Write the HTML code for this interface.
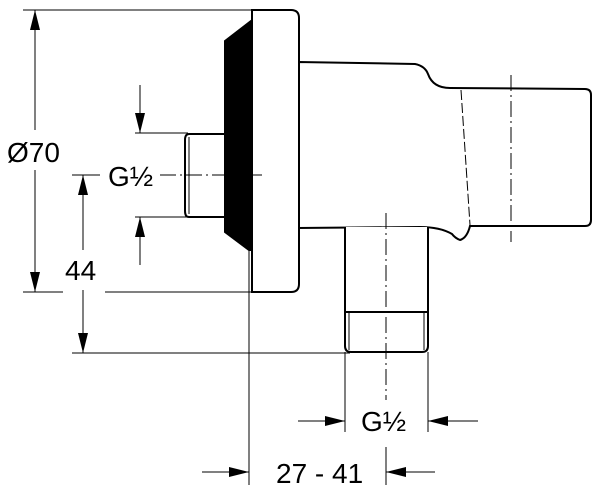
<!DOCTYPE html>
<html><head><style>html,body{margin:0;padding:0;background:#fff}svg{display:block}text{font-family:"Liberation Sans",sans-serif;fill:#000}</style></head>
<body>
<svg width="600" height="494" viewBox="0 0 600 494" xmlns="http://www.w3.org/2000/svg">
<defs>
<marker id="a" viewBox="0 0 20 10" refX="20" refY="5" markerWidth="20" markerHeight="10" markerUnits="userSpaceOnUse" orient="auto"><path d="M0,0 L20,5 L0,10 Z" fill="#000"/></marker>
</defs>
<g stroke="#000" fill="none" stroke-width="1">
<line x1="23" y1="10" x2="252" y2="10"/>
<line x1="23" y1="292" x2="63" y2="292"/>
<line x1="105" y1="292" x2="252" y2="292"/>
<line x1="72" y1="353" x2="350" y2="353"/>
<line x1="135" y1="133" x2="188" y2="133"/>
<line x1="135" y1="217" x2="188" y2="217"/>
<line x1="249" y1="250" x2="249" y2="485"/>
<line x1="345" y1="352" x2="345" y2="432"/>
<line x1="428" y1="352" x2="428" y2="432"/>
<line x1="35" y1="130" x2="35" y2="10" marker-end="url(#a)"/>
<line x1="35" y1="170" x2="35" y2="292" marker-end="url(#a)"/>
<line x1="83" y1="250" x2="83" y2="175" marker-end="url(#a)"/>
<line x1="83" y1="290" x2="83" y2="353" marker-end="url(#a)"/>
<line x1="140" y1="85" x2="140" y2="133" marker-end="url(#a)"/>
<line x1="140" y1="265" x2="140" y2="217" marker-end="url(#a)"/>
<line x1="298" y1="421" x2="345" y2="421" marker-end="url(#a)"/>
<line x1="478" y1="421" x2="428" y2="421" marker-end="url(#a)"/>
<line x1="202" y1="472" x2="249" y2="472" marker-end="url(#a)"/>
<line x1="435" y1="472" x2="386" y2="472" marker-end="url(#a)"/>
<line x1="72" y1="175" x2="100" y2="175"/>
<line x1="386" y1="447" x2="386" y2="485"/>
</g>
<g stroke="#000" stroke-width="2" fill="#fff">
<path d="M298,62 L415,64 Q425,66 428,74 Q433,88 450,88 L585,89 Q591,89 591,95 L591,220 Q591,226 585,226 L470,226 Q467,238 460,240 Q455,238 452,234 Q440,227 420,227 L298,228 Z"/>
<path d="M461,90 L470,225" stroke-width="1" stroke-dasharray="10,3"/>
<path d="M345,227 L345,346 Q345,352 351,352 L422,352 Q428,352 428,346 L428,227"/>
<line x1="345" y1="312" x2="428" y2="312"/>
<line x1="349" y1="313" x2="349" y2="350" stroke-width="1"/>
<line x1="424" y1="313" x2="424" y2="350" stroke-width="1"/>
<path d="M226,134 L189,134 Q185,134 185,140 L185,211 Q185,217 189,217 L226,217"/>
<line x1="189" y1="137" x2="189" y2="214" stroke-width="1"/>
<path d="M225,41 L251,21 L252,250 L249,250 L225,232 Z" fill="#000"/>
<path d="M252,10 L291,10 Q299,10 299,18 L299,284 Q299,292 291,292 L252,292 Z"/>
</g>
<g stroke="#000" fill="none" stroke-width="1" stroke-dasharray="16,4,2,4">
<line x1="160" y1="175" x2="225" y2="175"/>
<line x1="252" y1="175" x2="262" y2="175"/>
<line x1="511" y1="75" x2="511" y2="242"/>
<line x1="386" y1="213" x2="386" y2="400"/>
</g>
<g font-size="28">
<text x="7" y="162">Ø70</text>
<text x="65" y="280">44</text>
</g>
<g font-size="28">
<text x="108" y="186">G½</text>
<text x="361" y="431">G½</text>
<text x="276" y="483">27 - 41</text>
</g>
</svg>
</body></html>
